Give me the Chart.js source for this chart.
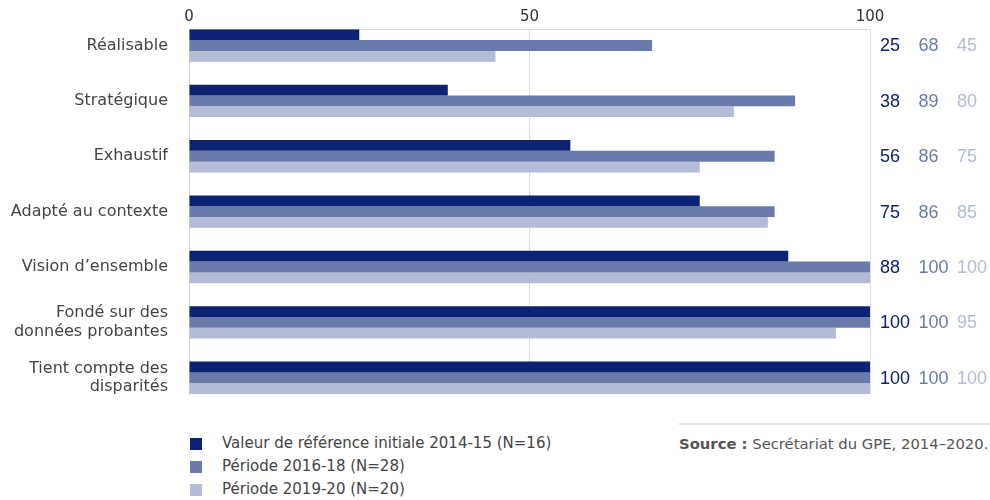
<!DOCTYPE html>
<html lang="fr">
<head>
<meta charset="utf-8">
<script src="https://cdn.jsdelivr.net/npm/chart.js@4"></script>
<style>
  body { margin: 0; background: #fff; font-family: "DejaVu Sans", sans-serif; }
  #wrap { position: relative; width: 990px; height: 500px; }
  #chartBox { position: absolute; left: 0; top: 0; width: 990px; height: 410px; }
  #legend { position: absolute; left: 190px; top: 432px; color: #444; font-size: 15px; }
  #legend .item { height: 23px; line-height: 23px; display: flex; align-items: center; }
  #legend .box { width: 12px; height: 12px; margin-right: 20px; }
  #source { position: absolute; left: 679px; top: 423px; width: 311px; border-top: 2px solid #e2e2e2;
            padding-top: 10px; color: #555; font-size: 14.8px; white-space: nowrap; }
</style>
</head>
<body>
<div id="wrap">
  <div id="chartBox"><canvas id="qualityChart"></canvas></div>
  <div id="legend"></div>
  <div id="source"><b>Source :</b> Secrétariat du GPE, 2014–2020.</div>
</div>
<script>
const categories = [
  "Réalisable",
  "Stratégique",
  "Exhaustif",
  "Adapté au contexte",
  "Vision d’ensemble",
  ["Fondé sur des", "données probantes"],
  ["Tient compte des", "disparités"],
];
const baseline1415 = [25, 38, 56, 75, 88, 100, 100];
const period1618 = [68, 89, 86, 86, 100, 100, 100];
const period1920 = [45, 80, 75, 85, 100, 95, 100];
const seriesLabels = [
  "Valeur de référence initiale 2014-15 (N=16)",
  "Période 2016-18 (N=28)",
  "Période 2019-20 (N=20)",
];
const seriesColors = ["#0b2372", "#6a7aab", "#b3bbd6"];
const xTicks = [0, 50, 100];

const groupShare = 0.5856;
const half = groupShare / 2;
const labelFont = "DejaVu Sans";

function toPoints(values) {
  return values.map((v, i) => ({ x: v, y: i }));
}

// value columns to the right of the plot
const valueColumns = {
  id: "valueColumns",
  afterDatasetsDraw(chart) {
    const { ctx, scales } = chart;
    const left = chart.chartArea.right + 10;
    const colStep = 38.5;
    ctx.save();
    ctx.font = '18px "Liberation Sans", Arial, sans-serif';
    ctx.textAlign = "left";
    ctx.textBaseline = "middle";
    chart.data.datasets.forEach((ds, d) => {
      ctx.fillStyle = seriesColors[d];
      ds.data.forEach((p, i) => {
        const y = scales.y.getPixelForValue(i);
        ctx.fillText(String(p.x), left + d * colStep, y + 1);
      });
    });
    ctx.restore();
  },
};

new Chart(document.getElementById("qualityChart"), {
  type: "bar",
  data: {
    datasets: [baseline1415, period1618, period1920].map((vals, d) => ({
      label: seriesLabels[d],
      data: toPoints(vals),
      backgroundColor: seriesColors[d],
      borderWidth: 0,
      categoryPercentage: groupShare,
      barPercentage: 1,
    })),
  },
  options: {
    indexAxis: "y",
    responsive: true,
    maintainAspectRatio: false,
    animation: false,
    layout: { padding: { left: 0, right: 120, top: 0, bottom: 16 } },
    plugins: { legend: { display: false }, tooltip: { enabled: false } },
    scales: {
      x: {
        type: "linear",
        position: "top",
        min: 0,
        max: 100,
        afterBuildTicks: (scale) => { scale.ticks = xTicks.map((v) => ({ value: v })); },
        afterFit: (scale) => {
          scale.height = 29.3;
          scale.paddingLeft = 0;
          scale.paddingRight = 0;
        },
        grid: { color: "#dcdcdc", drawTicks: false },
        border: { display: true, color: "#dcdcdc" },
        ticks: {
          padding: 3,
          color: "#333",
          font: { family: labelFont, size: 15 },
        },
      },
      y: {
        type: "linear",
        reverse: true,
        offset: false,
        min: -half,
        max: categories.length - 1 + half,
        afterBuildTicks: (scale) => { scale.ticks = categories.map((c, i) => ({ value: i })); },
        afterFit: (scale) => {
          scale.width = 189;
          scale.paddingTop = 0;
          scale.paddingBottom = 0;
        },
        grid: { display: false, offset: false, drawTicks: false },
        border: { display: true, color: "#d4d4d4" },
        ticks: {
          padding: 21,
          color: "#444",
          font: { family: labelFont, size: 16, lineHeight: 1.15 },
          callback: (v) => categories[v],
        },
      },
    },
  },
  plugins: [valueColumns],
});

// legend as a vertical list
const legend = document.getElementById("legend");
seriesLabels.forEach((label, d) => {
  const item = document.createElement("div");
  item.className = "item";
  const box = document.createElement("span");
  box.className = "box";
  box.style.background = seriesColors[d];
  const text = document.createElement("span");
  text.textContent = label;
  item.appendChild(box);
  item.appendChild(text);
  legend.appendChild(item);
});
</script>
</body>
</html>
